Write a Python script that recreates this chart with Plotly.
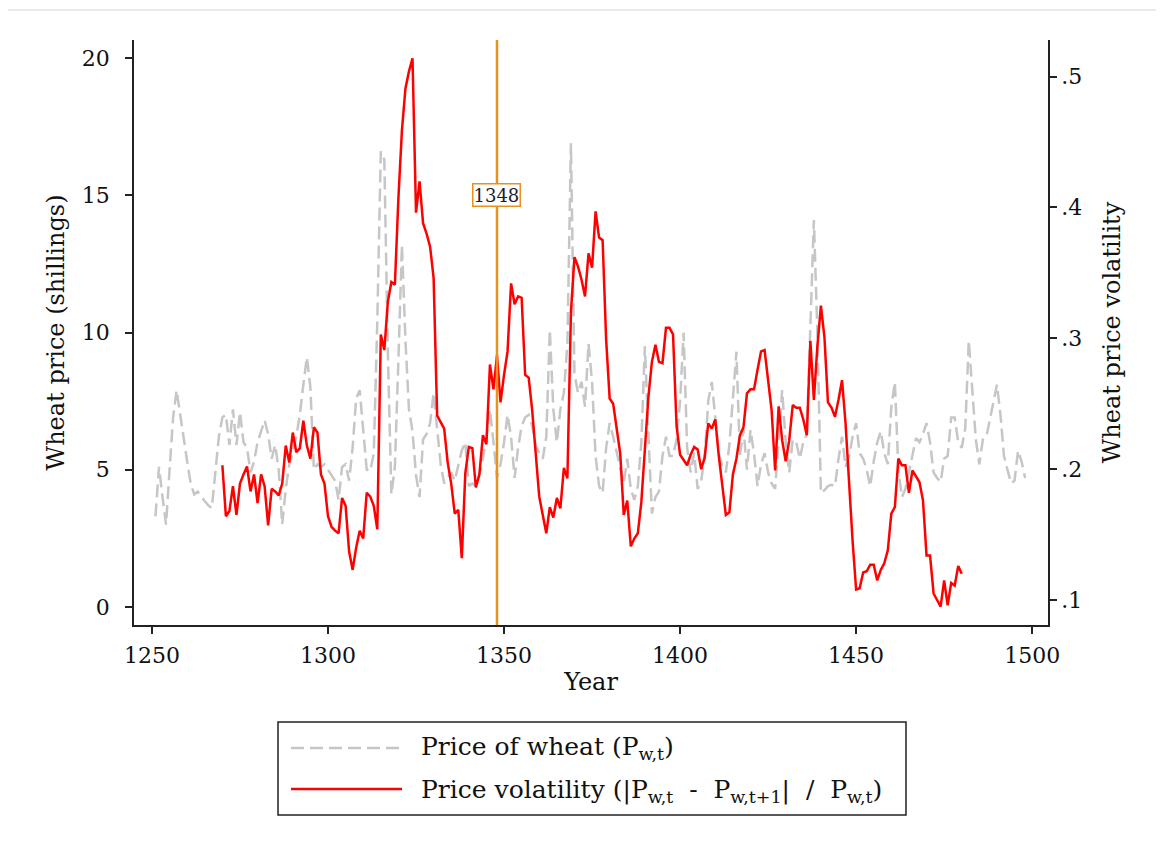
import plotly.graph_objects as go

# ---------------- data ----------------
price_years = list(range(1251, 1499))
wheat_price = [
    3.3, 5.1, 4.0, 3.0, 5.0, 6.9, 7.9, 7.0, 6.2, 5.3,
    4.5, 4.1, 4.2, 4.0, 3.85, 3.7, 3.6, 4.9, 6.2, 6.9,
    7.0, 5.9, 7.2, 5.9, 7.1, 6.0, 5.8, 4.9, 5.3, 6.0,
    6.4, 6.8, 6.3, 5.4, 5.9, 5.0, 3.0, 4.3, 5.2, 5.6,
    6.2, 7.0, 8.1, 9.1, 8.0, 5.0, 5.2, 5.1, 5.2, 5.0,
    4.8, 4.6, 3.9, 5.1, 5.2, 4.6, 5.8, 7.6, 7.9, 6.5,
    5.0, 4.95, 5.6, 10.4, 16.6, 16.3, 9.3, 4.1, 5.1, 9.0,
    13.2, 9.7, 7.2, 6.4, 4.8, 4.0, 6.1, 6.3, 6.7, 7.8,
    6.6, 5.2, 4.5, 4.7, 4.9, 4.6, 5.1, 5.7, 6.0, 4.4,
    4.5, 4.4, 4.8, 5.4, 6.2, 7.2, 6.0, 4.7, 5.2, 6.0,
    7.0, 6.2, 4.7, 5.8, 6.6, 6.9, 7.0, 6.6, 5.9, 5.6,
    5.4, 6.2, 10.1, 7.2, 6.0, 7.2, 7.8, 9.6, 16.9, 8.5,
    7.8, 8.2, 7.3, 9.6, 8.2, 5.5, 4.4, 4.15, 5.8, 6.7,
    6.2, 5.6, 5.0, 4.5, 5.4, 4.3, 3.9, 4.4, 6.0, 9.5,
    6.3, 3.4, 4.0, 4.2, 5.5, 6.2, 5.5, 5.5, 6.1, 7.5,
    10.0, 5.8, 4.9, 5.6, 4.3, 4.6, 5.5, 7.5, 8.2, 6.9,
    5.6, 5.1, 4.9, 5.9, 7.8, 9.3, 5.5, 6.5, 5.0, 6.45,
    5.6, 4.4, 5.2, 5.6, 4.9, 4.5, 4.3, 6.3, 7.9, 6.0,
    4.9, 6.1, 6.0, 5.4, 6.0, 6.3, 10.2, 14.1, 10.0, 4.15,
    4.25, 4.4, 4.45, 4.4, 5.4, 6.2, 5.1, 5.5, 6.2, 6.7,
    5.6, 5.4, 5.0, 4.4, 5.3, 6.0, 6.4, 5.6, 5.2, 7.3,
    8.2, 5.0, 4.0, 4.3, 4.9, 5.5, 6.15, 6.0, 6.3, 6.7,
    6.0, 4.9, 4.7, 4.55, 5.4, 5.5, 6.9, 6.9, 6.0, 5.8,
    6.5, 9.7, 8.0, 6.1, 5.2, 6.1, 6.2, 6.8, 7.4, 8.1,
    7.0, 5.5, 5.0, 4.5, 4.6, 5.7, 5.3, 4.7,
]

vol_years = list(range(1270, 1481))
volatility = [
    0.203, 0.164, 0.168, 0.187, 0.165, 0.189, 0.196, 0.202, 0.183, 0.196,
    0.174, 0.196, 0.187, 0.157, 0.185, 0.183, 0.180, 0.189, 0.218, 0.205,
    0.228, 0.213, 0.216, 0.237, 0.218, 0.208, 0.232, 0.228, 0.196, 0.189,
    0.164, 0.156, 0.153, 0.151, 0.178, 0.172, 0.137, 0.123, 0.140, 0.153,
    0.147, 0.182, 0.179, 0.172, 0.154, 0.303, 0.291, 0.328, 0.343, 0.341,
    0.407, 0.459, 0.491, 0.504, 0.514, 0.396, 0.420, 0.388, 0.380, 0.370,
    0.346, 0.241, 0.236, 0.231, 0.205, 0.189, 0.166, 0.169, 0.132, 0.197,
    0.217, 0.216, 0.186, 0.196, 0.226, 0.219, 0.280, 0.261, 0.287, 0.251,
    0.272, 0.290, 0.342, 0.326, 0.332, 0.331, 0.272, 0.270, 0.245, 0.210,
    0.179, 0.165, 0.151, 0.171, 0.163, 0.178, 0.170, 0.201, 0.193, 0.320,
    0.362, 0.355, 0.345, 0.332, 0.365, 0.354, 0.397, 0.377, 0.375, 0.299,
    0.254, 0.250, 0.232, 0.212, 0.165, 0.176, 0.141, 0.147, 0.151, 0.175,
    0.215, 0.255, 0.282, 0.295, 0.282, 0.281, 0.308, 0.308, 0.303, 0.233,
    0.211, 0.207, 0.203, 0.211, 0.217, 0.215, 0.200, 0.209, 0.235, 0.231,
    0.238, 0.210, 0.185, 0.165, 0.167, 0.196, 0.208, 0.226, 0.232, 0.258,
    0.261, 0.261, 0.276, 0.290, 0.291, 0.267, 0.245, 0.199, 0.248, 0.222,
    0.206, 0.222, 0.249, 0.247, 0.247, 0.238, 0.226, 0.298, 0.253, 0.294,
    0.325, 0.301, 0.251, 0.247, 0.240, 0.253, 0.268, 0.235, 0.185, 0.145,
    0.108, 0.109, 0.121, 0.122, 0.127, 0.127, 0.115, 0.123, 0.128, 0.138,
    0.166, 0.171, 0.208, 0.203, 0.203, 0.182, 0.199, 0.194, 0.190, 0.176,
    0.134, 0.134, 0.105, 0.100, 0.095, 0.115, 0.096, 0.113, 0.111, 0.126,
    0.120,
]

event_year = 1348
x_ticks = [1250, 1300, 1350, 1400, 1450, 1500]
left_ticks = [0, 5, 10, 15, 20]
right_ticks = [0.1, 0.2, 0.3, 0.4, 0.5]
right_ticktext = [".1", ".2", ".3", ".4", ".5"]
legend_labels = [
    "Price of wheat (P<sub>w,t</sub>)",
    "Price volatility (|P<sub>w,t</sub>&nbsp; -&nbsp; P<sub>w,t+1</sub>|&nbsp; /&nbsp; P<sub>w,t</sub>)",
]

assert len(wheat_price) == len(price_years)
assert len(volatility) == len(vol_years)

# ---------------- layout geometry ----------------
OFF = 8                      # default page body margin
W, H = 1164 - 2 * OFF, 850 - 2 * OFF
PL, PR, PT, PB = 134, 1048, 40, 625   # target plot area in page pixels
L, R, T, B = PL - OFF, PR - OFF, PT - OFF, PB - OFF
FONT = "DejaVu Serif"
GRAY = "#c6c6c6"
RED = "#ff0000"
ORANGE = "#e8911f"
TXT = "#111111"


def px(xp):
    return (xp - PL) / (PR - PL)


def py(yp):
    return (PB - yp) / (PB - PT)


fig = go.Figure()
fig.add_trace(go.Scatter(x=price_years, y=wheat_price, mode="lines",
                         line=dict(color=GRAY, width=2.5, dash="13px,6px"),
                         name="Price of wheat", showlegend=False, yaxis="y"))
fig.add_trace(go.Scatter(x=vol_years, y=volatility, mode="lines",
                         line=dict(color=RED, width=2.5),
                         name="Price volatility", showlegend=False, yaxis="y2"))

shapes = [
    dict(type="line", xref="x", yref="paper", x0=event_year, x1=event_year,
         y0=0, y1=1, line=dict(color=ORANGE, width=2.5)),
    dict(type="rect", xref="paper", yref="paper", x0=px(3), x1=px(1157),
         y0=py(849), y1=py(10), line=dict(color="#e6ecee", width=2), layer="below"),
    dict(type="rect", xref="paper", yref="paper", x0=px(278), x1=px(906),
         y0=py(815), y1=py(722), line=dict(color="#222222", width=1.5)),
    dict(type="line", xref="paper", yref="paper", x0=px(291), x1=px(402),
         y0=py(748), y1=py(748), line=dict(color=GRAY, width=2.5, dash="13px,6px")),
    dict(type="line", xref="paper", yref="paper", x0=px(291), x1=px(402),
         y0=py(789), y1=py(789), line=dict(color=RED, width=2.5)),
]

annotations = [
    dict(x=event_year, y=15, xref="x", yref="y", text="1348", showarrow=False,
         font=dict(family=FONT, size=18, color="#1a1a2e"), bgcolor="white",
         bordercolor=ORANGE, borderwidth=1.5, borderpad=0),
    dict(x=px(419), y=py(748), xref="paper", yref="paper", text=legend_labels[0],
         showarrow=False, xanchor="left", yanchor="middle",
         font=dict(family=FONT, size=25, color=TXT)),
    dict(x=px(419), y=py(791), xref="paper", yref="paper", text=legend_labels[1],
         showarrow=False, xanchor="left", yanchor="middle",
         font=dict(family=FONT, size=25, color=TXT)),
]

axis_common = dict(showgrid=False, zeroline=False, showline=True, linecolor="#222222",
                   linewidth=1.5, ticks="outside", ticklen=7, tickwidth=1.5,
                   tickcolor="#222222", tickfont=dict(family=FONT, size=22, color=TXT))
title_font = dict(family=FONT, size=24, color=TXT)

fig.update_layout(
    width=W, height=H,
    margin=dict(l=L, r=W - R, t=T, b=H - B),
    paper_bgcolor="white", plot_bgcolor="white",
    showlegend=False,
    shapes=shapes, annotations=annotations,
    xaxis=dict(range=[1244.9, 1504.5], tickvals=x_ticks, ticklabelstandoff=3,
               title=dict(text="Year", font=title_font, standoff=6),
               **axis_common),
    yaxis=dict(range=[-0.66, 20.66], tickvals=left_ticks, ticklabelstandoff=11,
               title=dict(text="Wheat price (shillings)", font=title_font, standoff=10),
               **axis_common),
    yaxis2=dict(range=[0.0809, 0.528], tickvals=right_ticks, ticktext=right_ticktext,
                overlaying="y", side="right",
                title=dict(text="Wheat price volatility", font=title_font, standoff=22),
                **axis_common),
)

fig.write_html("out.html")
